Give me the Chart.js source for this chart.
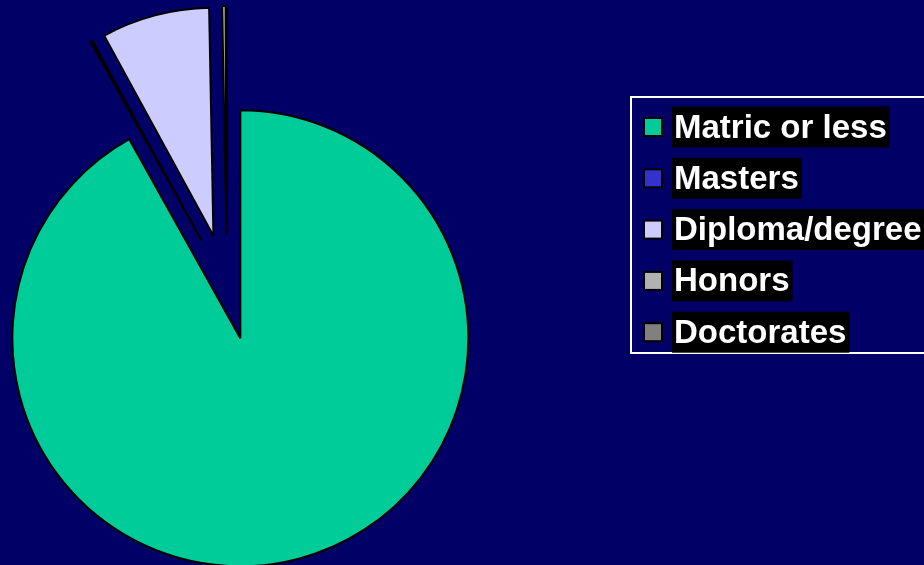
<!DOCTYPE html>
<html>
<head>
<meta charset="utf-8">
<title>Qualifications</title>
<script src="https://cdn.jsdelivr.net/npm/chart.js@4.4.1/dist/chart.umd.min.js"></script>
<style>
  html, body { margin: 0; padding: 0; background: #000066; }
  canvas { display: block; }
</style>
</head>
<body>
<canvas id="qualificationsPie" width="924" height="565"></canvas>
<script>
const LABELS = ["Matric or less", "Masters", "Diploma/degree", "Honors", "Doctorates"];
const SHARES = [91.9, 0.15, 7.65, 0.25, 0.05];
const COLORS = ["#00CC99", "#3333CC", "#CCCCFF", "#B2B2B2", "#808080"];

// every slice pulled out the same distance, all with the same outer radius
const EXPLODE = 53;
const RADIUS = 228;

// Chart.js shifts an arc by offset/4, but also grows it by offset/4 * fix
// (fix = 1 - sin(min(PI, sweep))) and trims offset/PI off its arc length.
// Undo both so the slices keep their true angles and one radius.
const evenSlices = {
  id: "evenSlices",
  afterDatasetsUpdate(chart) {
    chart.getDatasetMeta(0).data.forEach((arc) => {
      const fix = 1 - Math.sin(Math.min(Math.PI, arc.circumference));
      const grow = EXPLODE * fix;
      arc.outerRadius = RADIUS - grow;
      const trim = grow / (Math.PI * RADIUS) / 2;
      arc.startAngle -= trim;
      arc.endAngle += trim;
    });
  }
};

const legendBox = {
  id: "legendBox",
  afterDraw(chart) {
    const ctx = chart.ctx;
    const colors = chart.data.datasets[0].backgroundColor;
    ctx.save();
    ctx.strokeStyle = "#ffffff";
    ctx.lineWidth = 2;
    ctx.strokeRect(631, 97, 330, 256);
    ctx.font = 'bold 33px "Liberation Sans", Arial, sans-serif';
    ctx.textBaseline = "alphabetic";
    chart.data.labels.forEach((label, i) => {
      const y = 127 + i * 51.3;
      ctx.fillStyle = colors[i];
      ctx.fillRect(644, y - 9, 18, 18);
      ctx.strokeStyle = "#000000";
      ctx.lineWidth = 2;
      ctx.strokeRect(644, y - 9, 18, 18);
      const w = ctx.measureText(label).width;
      ctx.fillStyle = "#000000";
      ctx.fillRect(672, y - 20.5, w + 5, 41);
      ctx.fillStyle = "#ffffff";
      ctx.fillText(label, 674, y + 10.5);
    });
    ctx.restore();
  }
};

new Chart(document.getElementById("qualificationsPie"), {
  type: "pie",
  data: {
    labels: LABELS,
    datasets: [
      {
        data: SHARES,
        backgroundColor: COLORS,
        borderColor: "#000000",
        borderWidth: 2,
        offset: EXPLODE * 4,
        clip: false,
      },
    ],
  },
  options: {
    responsive: false,
    animation: false,
    events: [],
    radius: RADIUS - EXPLODE,
    layout: { padding: { left: 0, right: 470, top: 9, bottom: 0 } },
    plugins: {
      legend: { display: false },
      tooltip: { enabled: false },
    },
  },
  plugins: [evenSlices, legendBox],
});
</script>
</body>
</html>
